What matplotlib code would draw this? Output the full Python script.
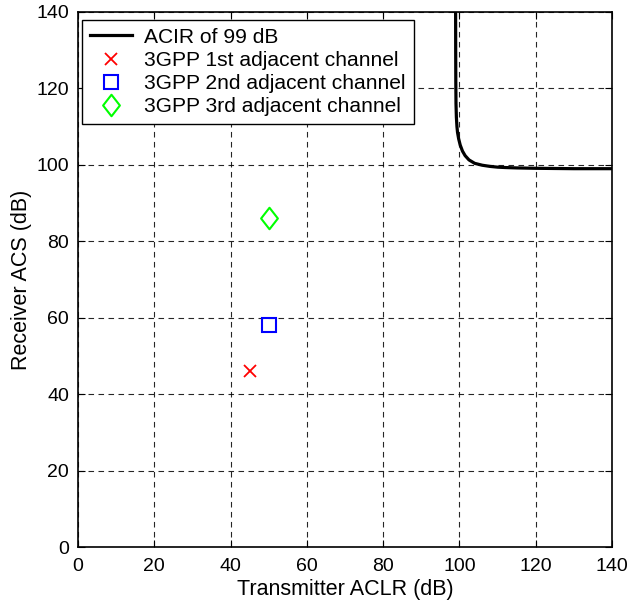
import matplotlib
matplotlib.use("Agg")
import matplotlib.pyplot as plt
from matplotlib.path import Path

plt.rcParams['font.family'] = ['Liberation Sans', 'DejaVu Sans']

# ACIR = 99 dB contour
curve_aclr = [99.0, 99.02, 99.05, 99.1, 99.2, 99.35, 99.5, 99.8, 100.2, 100.8, 101.5, 102.5, 104.0, 106.0, 108.0, 110.0, 112.0, 115.0, 120.0, 125.0, 130.0, 140.0]
curve_acs = [140.0, 130.0, 122.0, 116.0, 112.5, 110.0, 108.5, 106.8, 105.2, 103.6, 102.4, 101.3, 100.4, 99.9, 99.6, 99.4, 99.3, 99.2, 99.1, 99.05, 99.0, 99.0]

# 3GPP points
p1_aclr, p1_acs = [45], [46]
p2_aclr, p2_acs = [50], [58]
p3_aclr, p3_acs = [50], [86]

labels = ['ACIR of 99 dB', '3GPP 1st adjacent channel',
          '3GPP 2nd adjacent channel', '3GPP 3rd adjacent channel']
xticks = [0, 20, 40, 60, 80, 100, 120, 140]
yticks = [0, 20, 40, 60, 80, 100, 120, 140]

fig = plt.figure(figsize=(6.3, 6.03), dpi=100)
ax = fig.add_axes([78/630, 56/603, 534/630, 535/603])

diamond = Path([(0, 1), (0.78, 0), (0, -1), (-0.78, 0), (0, 1)],
               [Path.MOVETO, Path.LINETO, Path.LINETO, Path.LINETO, Path.CLOSEPOLY])

ax.plot(curve_aclr, curve_acs, color='black', lw=2.3, label=labels[0])
ax.plot(p1_aclr, p1_acs, ls='none', marker='x', ms=8.5, mew=1.3, color='#ff0000', label=labels[1])
ax.plot(p2_aclr, p2_acs, ls='none', marker='s', ms=9.5, mew=1.5, mfc='none', mec='#0000ff', label=labels[2])
ax.plot(p3_aclr, p3_acs, ls='none', marker=diamond, ms=15.5, mew=1.5, mfc='none', mec='#00ff00', label=labels[3])

ax.set_xlim(0, 140)
ax.set_ylim(0, 140)
ax.set_xticks(xticks)
ax.set_yticks(yticks)
ax.grid(True, color='black', ls=(0, (5, 4)), lw=0.8, alpha=0.85)
ax.tick_params(direction='in', length=5, width=0.8, top=True, right=True, labelsize=14)
ax.tick_params(axis='x', pad=8)
ax.tick_params(axis='y', pad=6.5)
for s in ax.spines.values():
    s.set_linewidth(1.2)

ax.set_xlabel('Transmitter ACLR (dB)', fontsize=15.5, labelpad=3)
ax.set_ylabel('Receiver ACS (dB)', fontsize=15.5, labelpad=3)

leg = ax.legend(loc='upper left', bbox_to_anchor=(4/534, 1 - 8/535), borderaxespad=0,
                fontsize=15.1, fancybox=False, edgecolor='black',
                framealpha=1, labelspacing=0.2, handlelength=2.0,
                handletextpad=0.6, borderpad=0.37)
leg.get_frame().set_linewidth(1.0)

fig.savefig('out.png', dpi=100)
